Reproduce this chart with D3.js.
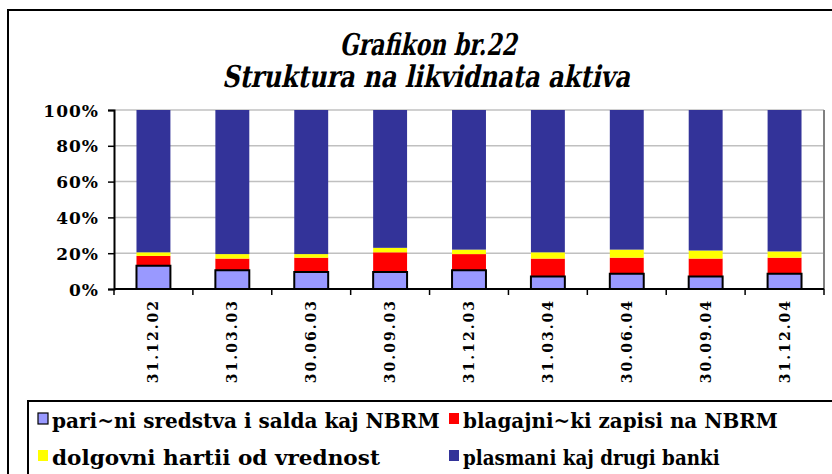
<!DOCTYPE html>
<html>
<head>
<meta charset="utf-8">
<script src="https://cdn.jsdelivr.net/npm/d3@7"></script>
<style>
  body { margin: 0; background: #fff; }
  svg { display: block; }
</style>
</head>
<body>
<svg id="chart" width="832" height="474"></svg>
<script>
'use strict';

// data (percent shares)
const categories = ['31.12.02', '31.03.03', '30.06.03', '30.09.03', '31.12.03', '31.03.04', '30.06.04', '30.09.04', '31.12.04'];
const cash       = [13, 10.5, 9.5, 9.5, 10.5, 7, 8.5, 7, 8.5];
const bills      = [5.5, 6.5, 8, 11, 9, 10, 9, 10, 9];
const securities = [2, 2.5, 2, 2.5, 2.5, 3.5, 4.5, 4.5, 3.5];
const placements = [79.5, 80.5, 80.5, 77, 78, 79.5, 78, 78.5, 79];
const yTicks     = [0, 0.2, 0.4, 0.6, 0.8, 1];

const seriesNames = ['pari~ni sredstva i salda kaj NBRM', 'blagajni~ki zapisi na NBRM', 'dolgovni hartii od vrednost', 'plasmani kaj drugi banki'];
const seriesKeys  = ['cash', 'bills', 'securities', 'placements'];
const colors      = ['#9999ff', '#ff0000', '#ffff00', '#333399'];

// build table for d3.stack
const table = categories.map((c, i) => ({
    cat: c, cash: cash[i], bills: bills[i], securities: securities[i], placements: placements[i]
}));

const svg = d3.select('#chart');
const serif = '"DejaVu Serif", serif';

// squeeze or stretch a text horizontally to a wanted width, optional slant
function fitWidth(sel, target, cx, cy, skew) {
    const w = sel.node().getComputedTextLength();
    const k = target / w;
    sel.attr('transform', `translate(${cx},${cy}) skewX(${skew || 0}) scale(${k},1)`);
}

// outer chart frame (runs past the window edges)
svg.append('rect')
    .attr('x', 8).attr('y', 10)
    .attr('width', 850).attr('height', 490)
    .attr('fill', 'none').attr('stroke', '#000').attr('stroke-width', 2);

// title (bold serif, slanted by hand)
const t1 = svg.append('text')
    .attr('text-anchor', 'middle')
    .attr('font-family', serif).attr('font-weight', 'bold')
    .attr('font-size', 30)
    .text('Grafikon br.22');
fitWidth(t1, 177, 428, 55, -12);
const t2 = svg.append('text')
    .attr('text-anchor', 'middle')
    .attr('font-family', serif).attr('font-weight', 'bold')
    .attr('font-size', 30)
    .text('Struktura na likvidnata aktiva');
fitWidth(t2, 408, 426, 87, -12);

// plot area
const plot = { left: 114, right: 824, top: 110, bottom: 289 };

const x = d3.scaleBand()
    .domain(categories)
    .range([plot.left, plot.right])
    .paddingInner(0.57)
    .paddingOuter(0.285);

const y = d3.scaleLinear()
    .domain([0, 1])
    .range([plot.bottom, plot.top]);

// gridlines
svg.append('g')
    .selectAll('line')
    .data(yTicks.filter(d => d > 0))
    .enter()
    .append('line')
    .attr('x1', plot.left).attr('x2', plot.right)
    .attr('y1', d => y(d)).attr('y2', d => y(d))
    .attr('stroke', '#c0c0c0').attr('stroke-width', 1.5);

// right border of plot area
svg.append('line')
    .attr('x1', plot.right).attr('x2', plot.right)
    .attr('y1', plot.top).attr('y2', plot.bottom)
    .attr('stroke', '#808080').attr('stroke-width', 2);

// stacked bars
const stack = d3.stack().keys(seriesKeys).offset(d3.stackOffsetExpand);
const layers = stack(table);

svg.append('g')
    .selectAll('g')
    .data(layers)
    .enter()
    .append('g')
    .attr('fill', (_, i) => colors[i])
    .selectAll('rect')
    .data(d => d)
    .enter()
    .append('rect')
    .attr('x', d => x(d.data.cat))
    .attr('y', d => y(d[1]))
    .attr('width', x.bandwidth())
    .attr('height', d => y(d[0]) - y(d[1]));

// black outline on the bottom segment
svg.append('g')
    .selectAll('path')
    .data(layers[0])
    .enter()
    .append('path')
    .attr('d', d => {
        const x0 = x(d.data.cat), x1 = x0 + x.bandwidth();
        return `M${x0},${y(d[0])}V${y(d[1])}H${x1}V${y(d[0])}`;
    })
    .attr('fill', 'none').attr('stroke', '#000').attr('stroke-width', 2);

// y axis
const yAxis = d3.axisLeft(y)
    .tickValues(yTicks)
    .tickFormat(d3.format('.0%'))
    .tickSize(6)
    .tickPadding(9);

const yg = svg.append('g')
    .attr('transform', `translate(${plot.left},0)`)
    .call(yAxis);
yg.select('.domain').attr('stroke', '#000').attr('stroke-width', 2);
yg.selectAll('.tick line').attr('stroke', '#000').attr('stroke-width', 1.5);
yg.selectAll('.tick text')
    .attr('font-family', serif)
    .attr('font-weight', 'bold')
    .attr('font-size', 17)
    .attr('letter-spacing', 1)
    .attr('fill', '#000')
    .attr('dy', '0.36em');

// x axis line and ticks at category boundaries
const step = x.step();
const bounds = categories.map(c => x(c) - (step - x.bandwidth()) / 2).concat([plot.right]);

svg.append('line')
    .attr('x1', plot.left).attr('x2', plot.right)
    .attr('y1', plot.bottom).attr('y2', plot.bottom)
    .attr('stroke', '#000').attr('stroke-width', 2);

svg.append('g')
    .selectAll('line')
    .data(bounds)
    .enter()
    .append('line')
    .attr('x1', d => d).attr('x2', d => d)
    .attr('y1', plot.bottom).attr('y2', plot.bottom + 6)
    .attr('stroke', '#000').attr('stroke-width', 1.5);

// rotated category labels
svg.append('g')
    .selectAll('text')
    .data(categories)
    .enter()
    .append('text')
    .attr('transform', d => `translate(${x(d) + x.bandwidth() / 2 + 5},${plot.bottom + 10}) rotate(-90)`)
    .attr('text-anchor', 'end')
    .attr('font-family', serif)
    .attr('font-weight', 'bold')
    .attr('font-size', 14)
    .attr('letter-spacing', 2)
    .text(d => d);

// legend
const legend = svg.append('g');
legend.append('rect')
    .attr('x', 28).attr('y', 401)
    .attr('width', 830).attr('height', 90)
    .attr('fill', '#fff').attr('stroke', '#000').attr('stroke-width', 2);

const legendPos = [
    { sx: 38, sy: 413, tx: 52, ty: 428, w: 388 },
    { sx: 449, sy: 413, tx: 463, ty: 428, w: 315 },
    { sx: 38, sy: 450, tx: 52, ty: 465, w: 328 },
    { sx: 449, sy: 450, tx: 463, ty: 465, w: 257 }
];

seriesNames.forEach((name, i) => {
    const p = legendPos[i];
    legend.append('rect')
        .attr('x', p.sx).attr('y', p.sy)
        .attr('width', 10).attr('height', 11)
        .attr('fill', colors[i])
        .attr('stroke', i === 0 ? '#000' : 'none')
        .attr('stroke-width', 1.2);
    const t = legend.append('text')
        .attr('font-family', serif)
        .attr('font-weight', 'bold')
        .attr('font-size', 20)
        .text(name);
    fitWidth(t, p.w, p.tx, p.ty, 0);
});
</script>
</body>
</html>
